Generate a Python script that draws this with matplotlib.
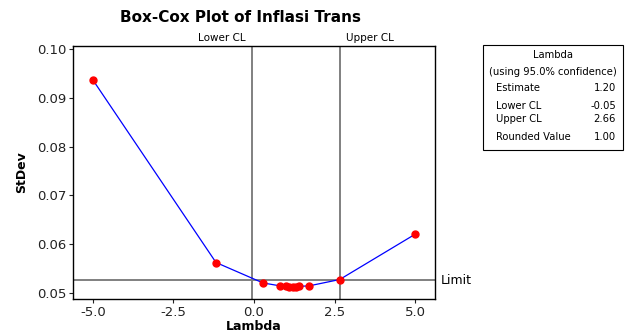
import matplotlib.pyplot as plt
import matplotlib.patches as patches

# data
lambdas = [-5.0, -1.18, 0.28, 0.81, 1.0, 1.1, 1.2, 1.3, 1.4, 1.71, 2.66, 5.0]
stdevs = [0.0937, 0.0562, 0.0520, 0.0514, 0.0513, 0.0512, 0.0512, 0.0512, 0.0513, 0.0514, 0.0527, 0.0620]
lower_cl = -0.05
upper_cl = 2.66
limit = 0.0526
x_ticks = [-5.0, -2.5, 0.0, 2.5, 5.0]
y_ticks = [0.05, 0.06, 0.07, 0.08, 0.09, 0.10]
box_rows = [("Estimate", "1.20"), ("Lower CL", "-0.05"), ("Upper CL", "2.66"), ("Rounded Value", "1.00")]

fig = plt.figure(figsize=(6.27, 3.35), dpi=100)
ax = fig.add_axes([73 / 627, 1 - 299 / 335, (435 - 73) / 627, (299 - 46) / 335])

ax.axvline(lower_cl, color='#808080', lw=1.4, zorder=1)
ax.axvline(upper_cl, color='#808080', lw=1.4, zorder=1)
ax.axhline(limit, color='#808080', lw=1.4, zorder=1)
ax.plot(lambdas, stdevs, color='blue', lw=0.9, zorder=2)
ax.plot(lambdas, stdevs, 'o', color='red', ms=5, zorder=3)

ax.set_xlim(-5.62, 5.62)
ax.set_ylim(0.0487, 0.1007)
ax.set_xticks(x_ticks)
ax.set_xticklabels(["%.1f" % v for v in x_ticks])
ax.set_yticks(y_ticks)
ax.set_yticklabels(["%.2f" % v for v in y_ticks])
ax.tick_params(direction='out', length=3, labelsize=9.5, pad=2, colors='#222222')
for s in ax.spines.values():
    s.set_linewidth(1.0)

ax.set_xlabel("Lambda", fontsize=9, fontweight='bold', labelpad=1)
ax.set_ylabel("StDev", fontsize=9, fontweight='bold', labelpad=6)
fig.text(240 / 627, 1 - 17 / 335, "Box-Cox Plot of Inflasi Trans", ha='center', va='center',
         fontsize=11, fontweight='bold')

# labels for reference lines
ax.text(lower_cl - 0.2, 1.01, "Lower CL", transform=ax.get_xaxis_transform(), ha='right', va='bottom', fontsize=7.5)
ax.text(upper_cl + 0.2, 1.01, "Upper CL", transform=ax.get_xaxis_transform(), ha='left', va='bottom', fontsize=7.5)
ax.text(1.015, limit, "Limit", transform=ax.get_yaxis_transform(), ha='left', va='center', fontsize=9)

# info box
bx0, by0, bx1, by1 = 483, 45, 623, 150
fig.patches.append(patches.Rectangle((bx0 / 627, 1 - by1 / 335), (bx1 - bx0) / 627, (by1 - by0) / 335,
                                     transform=fig.transFigure, fill=False, ec='black', lw=0.8))
cx = (bx0 + bx1) / 2 / 627
fig.text(cx, 1 - 55 / 335, "Lambda", ha='center', va='center', fontsize=7.2)
fig.text(cx, 1 - 72 / 335, "(using 95.0% confidence)", ha='center', va='center', fontsize=7.2)
row_y = [88, 106, 119, 137]
for (name, val), yy in zip(box_rows, row_y):
    fig.text(496 / 627, 1 - yy / 335, name, ha='left', va='center', fontsize=7.2)
    fig.text(616 / 627, 1 - yy / 335, val, ha='right', va='center', fontsize=7.2)

fig.savefig("out.png", dpi=100)
